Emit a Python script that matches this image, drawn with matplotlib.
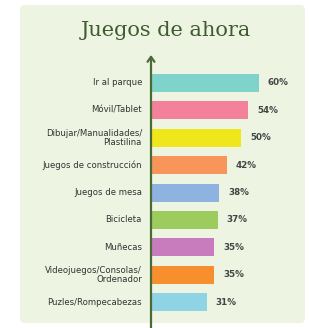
import matplotlib
matplotlib.use("Agg")
import matplotlib.pyplot as plt
from matplotlib.patches import FancyBboxPatch

categories = ["Ir al parque", "Móvil/Tablet", "Dibujar/Manualidades/\nPlastilina",
              "Juegos de construcción", "Juegos de mesa", "Bicicleta", "Muñecas",
              "Videojuegos/Consolas/\nOrdenador", "Puzles/Rompecabezas"]
values = [60, 54, 50, 42, 38, 37, 35, 35, 31]
colors = ["#7fd3cb", "#f4819b", "#efe61c", "#f7955a", "#8fb3e0",
          "#9ccb5e", "#c87cbd", "#f78f2f", "#8fd4e5"]
title = "Juegos de ahora"

W, H = 309, 328
fig = plt.figure(figsize=(W / 100, H / 100), dpi=100)
fig.patch.set_facecolor("white")

# light green panel (behind the axes)
panel = FancyBboxPatch((20 / W, 1 - 323 / H), 285 / W, 318 / H,
                       boxstyle="round,pad=0,rounding_size=0.015",
                       transform=fig.transFigure, facecolor="#eef4e2",
                       edgecolor="none", zorder=-5)
fig.patches.append(panel)

fig.text(166 / W, 1 - 31 / H, title, ha="center", va="center",
         fontsize=15, color="#3f5b30", family="DejaVu Serif")

# axes: x from 151 px to 281 px, y from 55 px (arrow tip) to 328 px
ax_left, ax_right = 151, 281
ax_top, ax_bot = 55, 328
ax = fig.add_axes([ax_left / W, 1 - ax_bot / H, (ax_right - ax_left) / W, (ax_bot - ax_top) / H])
ax.set_facecolor("none")
px_per_unit = 108 / 60
ax.set_xlim(0, (ax_right - ax_left) / px_per_unit)
step = 27.4
ax.set_ylim((ax_bot - 83) / step, -(83 - ax_top) / step)

ypos = list(range(len(categories)))
ax.barh(ypos, values, height=0.66, color=colors, zorder=2)

for y, v, c in zip(ypos, values, categories):
    ax.text(v + 9 / px_per_unit, y, f"{v}%", va="center", ha="left",
            fontsize=6.3, color="#444444", fontweight="bold")
    ax.text(-9 / px_per_unit, y, c, va="center", ha="right", fontsize=6.1,
            color="#333333", linespacing=1.0, clip_on=False)

for s in ax.spines.values():
    s.set_visible(False)
ax.set_xticks([])
ax.set_yticks([])

# vertical axis with arrow
ax.annotate("", xy=(0, 1), xytext=(0, 0), xycoords="axes fraction",
            arrowprops=dict(arrowstyle="->,head_length=0.35,head_width=0.25",
                            color="#4a6a38", lw=1.6, shrinkA=0, shrinkB=0),
            annotation_clip=False, zorder=3)

fig.savefig("out.png", dpi=100, facecolor="white")
